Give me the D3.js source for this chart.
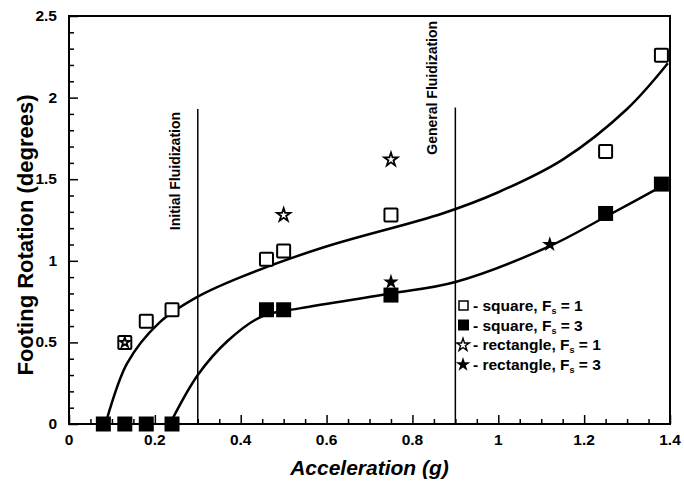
<!DOCTYPE html>
<html>
<head>
<meta charset="utf-8">
<script src="https://cdn.jsdelivr.net/npm/d3@7"></script>
<style>
  body { margin: 0; background: #fff; }
  text { font-family: "Liberation Sans", Arial, sans-serif; font-weight: bold; }
</style>
</head>
<body>
<svg id="chart"></svg>
<script>
// data
const squareFs1 = [[0.13, 0.5], [0.18, 0.63], [0.24, 0.70], [0.46, 1.01], [0.50, 1.06], [0.75, 1.28], [1.25, 1.67], [1.38, 2.26]];
const squareFs3 = [[0.08, 0], [0.13, 0], [0.18, 0], [0.24, 0], [0.46, 0.70], [0.50, 0.70], [0.75, 0.79], [1.25, 1.29], [1.38, 1.47]];
const rectFs1 = [[0.13, 0.5], [0.50, 1.28], [0.75, 1.62]];
const rectFs3 = [[0.75, 0.87], [1.12, 1.10]];
const upperCurve = [[0.085, 0], [0.135, 0.37], [0.21, 0.62], [0.30, 0.78], [0.40, 0.90], [0.59, 1.08], [0.87, 1.29], [1.0, 1.42], [1.15, 1.62], [1.3, 1.93], [1.395, 2.21]];
const lowerCurve = [[0.235, 0], [0.30, 0.30], [0.37, 0.51], [0.45, 0.66], [0.54, 0.71], [0.75, 0.80], [0.90, 0.87], [1.12, 1.09], [1.25, 1.27], [1.39, 1.47]];
const fluidLines = [{ x: 0.3, top: 1.93, label: "Initial Fluidization", mid: 1.55 }, { x: 0.9, top: 1.94, label: "General Fluidization", mid: 2.06 }];
const xTicks = [0, 0.2, 0.4, 0.6, 0.8, 1, 1.2, 1.4];
const yTicks = [0, 0.5, 1, 1.5, 2, 2.5];
const legendItems = ["square", "square", "rectangle", "rectangle"];
const legendFs = [1, 3, 1, 3];

const width = 684, height = 492;
const margin = { left: 69, right: 14, top: 16, bottom: 68 };

const svg = d3.select("#chart").attr("width", width).attr("height", height);

const x = d3.scaleLinear().domain([0, 1.4]).range([margin.left, width - margin.right]);
const y = d3.scaleLinear().domain([0, 2.5]).range([height - margin.bottom, margin.top]);

// frame
svg.append("rect")
  .attr("x", x(0)).attr("y", y(2.5))
  .attr("width", x(1.4) - x(0)).attr("height", y(0) - y(2.5))
  .attr("fill", "none").attr("stroke", "#000").attr("stroke-width", 2);

// x axis ticks (pointing up)
const xAxis = svg.append("g").attr("transform", `translate(0,${y(0)})`)
  .call(d3.axisTop(x).tickValues(d3.range(0, 1.41, 0.05)).tickSize(5).tickFormat(""));
xAxis.selectAll(".tick line").attr("stroke-width", 1.5)
  .filter(d => xTicks.some(t => Math.abs(t - d) < 1e-6)).attr("y2", -9);
xAxis.select(".domain").remove();
svg.append("g").selectAll("text").data(xTicks).join("text")
  .attr("x", d => x(d)).attr("y", y(0) + 21)
  .attr("text-anchor", "middle").attr("font-size", 15.5)
  .text(d => d);

// y axis ticks (pointing right)
const yAxis = svg.append("g").attr("transform", `translate(${x(0)},0)`)
  .call(d3.axisRight(y).tickValues(d3.range(0, 2.51, 0.1)).tickSize(5).tickFormat(""));
yAxis.selectAll(".tick line").attr("stroke-width", 1.5)
  .filter(d => yTicks.some(t => Math.abs(t - d) < 1e-6)).attr("x2", 9);
yAxis.select(".domain").remove();
svg.append("g").selectAll("text").data(yTicks).join("text")
  .attr("x", x(0) - 12).attr("y", d => y(d) + 5)
  .attr("text-anchor", "end").attr("font-size", 15.5)
  .text(d => d);

// axis titles
svg.append("text")
  .attr("x", (x(0) + x(1.4)) / 2).attr("y", 475)
  .attr("text-anchor", "middle").attr("font-size", 21).attr("font-style", "italic")
  .text("Acceleration (g)");
svg.append("text")
  .attr("transform", `translate(33,${(y(0) + y(2.5)) / 2 + 15}) rotate(-90)`)
  .attr("text-anchor", "middle").attr("font-size", 22)
  .text("Footing Rotation (degrees)");

// fluidization lines
svg.append("g").selectAll("line").data(fluidLines).join("line")
  .attr("x1", d => x(d.x)).attr("x2", d => x(d.x))
  .attr("y1", d => y(d.top)).attr("y2", y(0))
  .attr("stroke", "#000").attr("stroke-width", 1.5);
svg.append("g").selectAll("text").data(fluidLines).join("text")
  .attr("transform", d => `translate(${x(d.x) - 18},${y(d.mid)}) rotate(-90)`)
  .attr("text-anchor", "middle").attr("font-size", 14)
  .text(d => d.label);

// curves
const line = d3.line().x(d => x(d[0])).y(d => y(d[1])).curve(d3.curveCatmullRom.alpha(0.5));
svg.append("g").selectAll("path").data([upperCurve, lowerCurve]).join("path")
  .attr("d", line).attr("fill", "none").attr("stroke", "#000").attr("stroke-width", 2.5);

// markers
const sq = 15;
svg.append("g").selectAll("rect").data(squareFs3).join("rect")
  .attr("x", d => x(d[0]) - sq / 2).attr("y", d => y(d[1]) - sq / 2)
  .attr("width", sq).attr("height", sq).attr("fill", "#000");
svg.append("g").selectAll("rect").data(squareFs1).join("rect")
  .attr("x", d => x(d[0]) - sq / 2 + 1).attr("y", d => y(d[1]) - sq / 2 + 1)
  .attr("width", sq - 2).attr("height", sq - 2).attr("rx", 1)
  .attr("fill", "#fff").attr("stroke", "#000").attr("stroke-width", 2);
svg.append("g").selectAll("path").data(rectFs1).join("path")
  .attr("transform", d => `translate(${x(d[0])},${y(d[1])})`)
  .attr("d", (d, i) => d3.symbol().type(d3.symbolStar).size(i === 0 ? 30 : 55)())
  .attr("fill", "#fff").attr("stroke", "#000").attr("stroke-width", 1.8);
svg.append("g").selectAll("path").data(rectFs3).join("path")
  .attr("transform", d => `translate(${x(d[0])},${y(d[1])})`)
  .attr("d", d3.symbol().type(d3.symbolStar).size(75)).attr("fill", "#000");

// legend
const legend = svg.append("g").attr("transform", "translate(463,306)");
const rowH = 19.5;
legendItems.forEach((name, i) => {
  const g = legend.append("g").attr("transform", `translate(0,${i * rowH})`);
  if (i === 0) g.append("rect").attr("x", -4).attr("y", -5).attr("width", 9).attr("height", 9)
    .attr("fill", "#fff").attr("stroke", "#000").attr("stroke-width", 1.5);
  if (i === 1) g.append("rect").attr("x", -5).attr("y", -6).attr("width", 11).attr("height", 11).attr("fill", "#000");
  if (i === 2) g.append("path").attr("d", d3.symbol().type(d3.symbolStar).size(50))
    .attr("fill", "#fff").attr("stroke", "#000").attr("stroke-width", 1.4);
  if (i === 3) g.append("path").attr("d", d3.symbol().type(d3.symbolStar).size(65)).attr("fill", "#000");
  const t = g.append("text").attr("x", 10).attr("y", 5).attr("font-size", 15.5);
  t.append("tspan").text(`- ${name}, F`);
  t.append("tspan").attr("font-size", 9).attr("dy", 3).text("s");
  t.append("tspan").attr("dy", -3).text(` = ${legendFs[i]}`);
});
</script>
</body>
</html>
